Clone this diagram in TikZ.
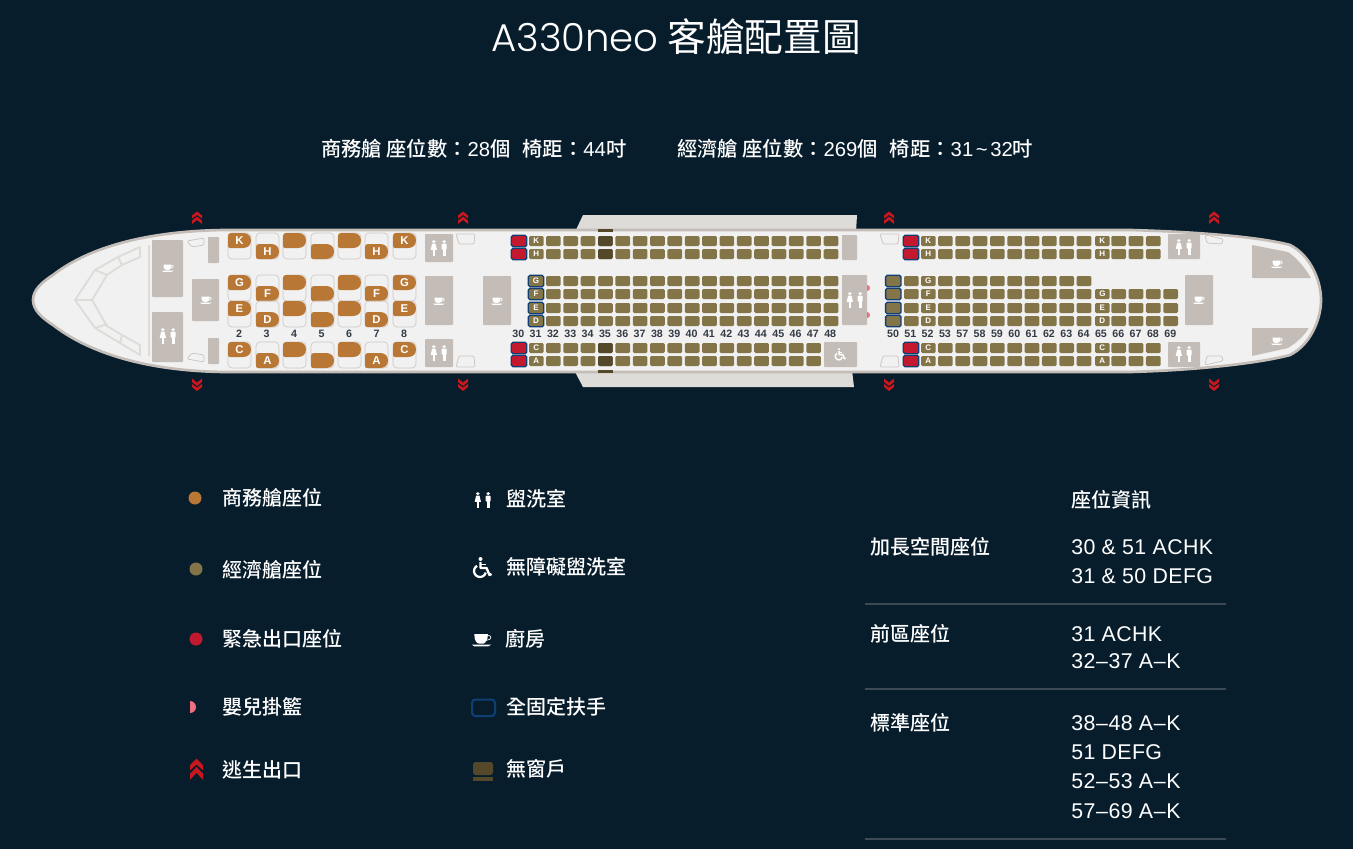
\documentclass[tikz,border=0pt]{standalone}
\usepackage{fontspec}
\setmainfont[UprightFont=* Medium]{Noto Sans CJK TC}
\newfontfamily\titlefont[UprightFont=* Light]{Poppins}
\newfontfamily\headfont{Noto Sans CJK TC}
\newfontfamily\latinfont{Liberation Sans}
\newfontfamily\infofont[LetterSpace=1.8]{Liberation Sans}
\usepackage{tikz}
\definecolor{bgcol}{HTML}{071D2C}
\definecolor{bodycol}{HTML}{F1F1F1}
\definecolor{edgecol}{HTML}{C4BDB7}
\definecolor{wingcol}{HTML}{DDDCD8}
\definecolor{bizcol}{HTML}{B97735}
\definecolor{ecocol}{HTML}{847549}
\definecolor{darkcol}{HTML}{54482B}
\definecolor{redcol}{HTML}{C3192F}
\definecolor{bluecol}{HTML}{103F76}
\definecolor{exitcol}{HTML}{C8171E}
\definecolor{pinkcol}{HTML}{EE6F7D}
\definecolor{numcol}{HTML}{333B45}
\definecolor{rulecol}{HTML}{3D4A55}
\tikzstyle{eco}=[fill=ecocol,rounded corners=1pt]
\tikzstyle{dark}=[fill=darkcol,rounded corners=1pt]
\tikzstyle{redseat}=[fill=redcol,draw=bluecol,line width=1pt,rounded corners=1.2pt]
\tikzstyle{railseat}=[fill=ecocol,draw=bluecol,line width=1pt,rounded corners=1.2pt]
\tikzstyle{room}=[fill=edgecol,rounded corners=0.6pt]
\tikzstyle{shell}=[draw=edgecol!85,line width=0.5pt,rounded corners=3pt]
\tikzstyle{door}=[draw=edgecol!85,line width=0.6pt,fill=bodycol,rounded corners=1pt]
\tikzstyle{glass}=[draw=wingcol,line width=1.4pt,line join=round]
\tikzstyle{seatlabel}=[font=\latinfont\bfseries\fontsize{6}{6}\selectfont,text=white,inner sep=0pt]
\tikzstyle{bizlabel}=[font=\latinfont\bfseries\fontsize{8.5}{8.5}\selectfont,text=white,inner sep=0pt]
\tikzstyle{rownum}=[font=\latinfont\bfseries\fontsize{8}{8}\selectfont,text=numcol,inner sep=0pt]
\tikzstyle{txt}=[font=\fontsize{15}{15}\selectfont,text=white,anchor=base west,inner sep=0pt]
\tikzstyle{subtxt}=[font=\fontsize{15.2}{15.2}\selectfont,text=white,anchor=base west,inner sep=0pt]
\tikzstyle{info}=[font=\infofont\fontsize{16}{16}\selectfont,text=white,anchor=base west,inner sep=0pt]
\tikzstyle{tablerule}=[draw=rulecol,line width=1.5pt]
\newcommand{\ecoseat}[2]{\fill[eco] (#1,#2) rectangle ++(14.7,10);}
\newcommand{\letterseat}[3]{\fill[eco] (#1,#2) rectangle ++(14.7,10);
\node[seatlabel] (seat#3#1) at (#1+7.35,#2+5) {#3};}
% business seat, #3 = 0 back of the shell up, #3 = 11 down
\newcommand{\bizseat}[5]{\draw[shell] (#1,#2) rectangle ++(23,26);
\fill[bizcol,shift={(#1,#2+#3)}] (0,3) .. controls (0,1) and (1,0) .. (3,0) -- (15,0) .. controls (20,0) and (23,3) .. (23,7.5) .. controls (23,12) and (20,15) .. (15,15) -- (2,15) .. controls (0.7,15) and (0,14) .. (0,13) -- cycle;
\ifx&#4&\else\node[bizlabel] (#5) at (#1+11.5,#2+#3+7.5) {#4};\fi}
\newcommand{\cupicon}[3]{\begin{scope}[shift={(#1,#2)},scale=#3]
\fill[white] (-4.5,-3.5) -- (3.5,-3.5) .. controls (3.5,0) and (2,2) .. (0.5,2.2) -- (-1.5,2.2) .. controls (-3.5,2) and (-4.5,0) .. cycle;
\draw[white,line width=0.5pt] (3.3,-2.7) .. controls (6,-3) and (6,0) .. (2.6,0.2);
\fill[white] (-6,2.7) -- (5.5,2.7) -- (3.5,3.8) -- (-4.5,3.8) -- cycle;
\end{scope}}
\newcommand{\peopleicon}[3]{\begin{scope}[shift={(#1,#2)},scale=#3,xscale=1.15,white]
\fill (-4.5,-6.4) circle (1.6);
\fill (-6,-4.3) -- (-3,-4.3) -- (-1.8,1.8) -- (-7.2,1.8) -- cycle;
\fill (-5.6,1.5) rectangle (-4.7,8);
\fill (-4.3,1.5) rectangle (-3.4,8);
\fill (4.5,-6.4) circle (1.6);
\fill[rounded corners=0.6pt] (2.3,-4.3) rectangle (6.7,1.5);
\fill (3.3,1) rectangle (4.35,8);
\fill (4.65,1) rectangle (5.7,8);
\end{scope}}
\newcommand{\wheelicon}[3]{\begin{scope}[shift={(#1,#2)},scale=#3,white]
\fill (-1.5,-8) circle (2);
\draw[line width=#3*1.8pt,line join=round] (-1.5,-5) -- (-1.5,1) -- (4.5,1) -- (7.5,8) -- (9.5,7);
\draw[line width=#3*1.4pt] (-1.5,-2.5) -- (3.5,-2.5);
\draw[line width=#3*1.7pt] ([shift={(-120:6)}]-2,4) arc (-120:-345:6);
\end{scope}}
\newcommand{\exiticon}[4]{\begin{scope}[shift={(#1,#2)},scale=#3,yscale=#4]
\fill[exitcol] (-5,-2.5) -- (0,-6.5) -- (5,-2.5) -- (5,0.5) -- (0,-3) -- (-5,0.5) -- cycle;
\fill[exitcol] (-5,2.5) -- (0,-1.5) -- (5,2.5) -- (5,6) -- (0,2) -- (-5,6) -- cycle;
\end{scope}}

\begin{document}
\begin{tikzpicture}[x=0.75pt,y=-0.75pt]
\useasboundingbox (0,0) rectangle (1353,849);
\fill[bgcol] (0,0) rectangle (1353,849);

% wings
\fill[wingcol] (575,232) -- (583,215) -- (857,215) -- (856,232) -- cycle;
\fill[wingcol] (574,370) -- (583,387) -- (854,387) -- (852,370) -- cycle;

% fuselage
\draw[fill=bodycol,draw=edgecol,line width=2pt] (33,300) .. controls (33,290) and (42,282) .. (53,275) .. controls (85,250) and (140,231) .. (225,230) -- (1130,230) .. controls (1200,232) and (1260,237) .. (1290,245) .. controls (1310,255) and (1321,280) .. (1321,300) .. controls (1321,320) and (1310,345) .. (1290,355) .. controls (1260,363) and (1200,370) .. (1130,372) -- (225,372) .. controls (140,371) and (85,350) .. (53,325) .. controls (42,318) and (33,310) .. cycle;

\fill[darkcol] (598,229) rectangle (613,232);
\fill[darkcol] (598,369.5) rectangle (613,372.5);

% cockpit
\draw[glass] (75,300) -- (95,270) -- (118,257) -- (140,247) -- (140,257) -- (122,265) -- (107,275) -- (92,300) -- cycle;
\draw[glass] (95,270) -- (107,275);
\draw[glass] (118,257) -- (122,265);
\draw[glass] (75,300) -- (95,328) -- (120,343) -- (140,355) -- (140,345) -- (122,335) -- (107,326) -- (92,300);
\draw[glass] (95,328) -- (107,324);
\draw[glass] (120,343) -- (122,335);
\draw[wingcol,line width=1pt] (149,245) -- (149,356);

% galleys and lavatories
\fill[room] (152,240) rectangle (183,297);
\fill[room] (152,312) rectangle (183,362);
\fill[room] (192,279) rectangle (219,321);
\fill[room] (208,237) rectangle (219,263);
\fill[room] (208,338) rectangle (219,364);
\fill[room] (425,234) rectangle (453,262);
\fill[room] (425,276) rectangle (453,325);
\fill[room] (425,339) rectangle (453,367);
\fill[room] (483,276) rectangle (511,325);
\fill[room] (842,235) rectangle (857,260);
\fill[room] (842,275) rectangle (867,325);
\fill[room] (824,342) rectangle (857,367);
\fill[room] (1168,234) rectangle (1200,259);
\fill[room] (1168,342) rectangle (1200,367);
\fill[room] (1185,275) rectangle (1213,325);
\fill[room] (1252,245) -- (1288,252) .. controls (1297,258) and (1305,268) .. (1311,278) -- (1252,278) -- cycle;
\fill[room] (1252,328) -- (1309,328) .. controls (1303,337) and (1296,343) .. (1288,348) -- (1252,356) -- cycle;

\fill[pinkcol] (867,285) arc (-90:90:3) -- cycle;
\fill[pinkcol] (867,312) arc (-90:90:3) -- cycle;

\cupicon{168}{268}{1}
\cupicon{206}{300}{1}
\cupicon{439}{301}{1}
\cupicon{497}{301}{1}
\cupicon{1199}{300}{1}
\cupicon{1277}{264}{1}
\cupicon{1277}{341}{1}
\peopleicon{168}{336}{1}
\peopleicon{439}{248}{1}
\peopleicon{439}{353}{1}
\peopleicon{855}{300}{1}
\peopleicon{1184}{247}{1}
\peopleicon{1184}{354}{1}
\wheelicon{840}{354}{0.6}

% doors
\draw[door] (187,241) -- (204,238) -- (204,245) -- (192,247) -- cycle;
\draw[door] (187,359) -- (204,362) -- (204,355) -- (192,353) -- cycle;
\foreach \xx in {456,880}{
\draw[door] (\xx,234) -- (\xx+19,234) -- (\xx+18,244) -- (\xx+3,244) -- cycle;
\draw[door] (\xx,367) -- (\xx+19,367) -- (\xx+18,356) -- (\xx+3,356) -- cycle;
}
\draw[door] (1205,235) -- (1223,239) -- (1222,244) -- (1207,243) -- cycle;
\draw[door] (1205,365) -- (1223,361) -- (1222,356) -- (1207,356) -- cycle;

% exits
\foreach \xx in {197,463,889,1214}{
\exiticon{\xx}{218}{1}{1}
\exiticon{\xx}{384.5}{1}{-1}
}

% business class
\foreach \xx/\la/\lb/\lc/\ld in {228/K/G/E/C,283///,338///,393/K/G/E/C}{
\bizseat{\xx}{233}{0}{\la}{bizK\xx}
\bizseat{\xx}{275}{0}{\lb}{bizG\xx}
\bizseat{\xx}{301}{0}{\lc}{bizE\xx}
\bizseat{\xx}{342}{0}{\ld}{bizC\xx}
}
\foreach \xx/\la/\lb/\lc/\ld in {256/H/F/D/A,311///,365/H/F/D/A}{
\bizseat{\xx}{233}{11}{\la}{bizH\xx}
\bizseat{\xx}{275}{11}{\lb}{bizF\xx}
\bizseat{\xx}{301}{11}{\lc}{bizD\xx}
\bizseat{\xx}{342}{11}{\ld}{bizA\xx}
}
\foreach \n [count=\i from 0] in {2,3,4,5,6,7,8}{
\node[rownum] (num\n) at ({239+27.5*\i},334) {\n};
}

% forward economy
\foreach \yy in {236,249,276,289,303,316,343,356}{
\foreach \i in {0,...,15}{
\ecoseat{546+17.35*\i}{\yy}
}
}
\foreach \yy in {236,249,276,289,303,316}{
\ecoseat{823.7}{\yy}
}
\foreach \yy in {236,249,343,356}{
\fill[redseat] (511.3,\yy-0.7) rectangle ++(15.4,11.4);
\fill[dark] (598,\yy) rectangle ++(14.7,10);
}
\letterseat{529}{236}{K}
\letterseat{529}{249}{H}
\letterseat{529}{343}{C}
\letterseat{529}{356}{A}
\foreach \yy/\la in {276/G,289/F,303/E,316/D}{
\draw[railseat] (528.3,\yy-0.7) rectangle ++(15.4,11.4);
\node[seatlabel] (seat\la31) at (536,\yy+5) {\la};
}
\foreach \n [count=\i from 0] in {30,31,32,33,34,35,36,37,38,39,40,41,42,43,44,45,46,47,48}{
\node[rownum] (num\n) at ({518.3+17.33*\i},334) {\n};
}

% rear economy
\foreach \yy in {236,249,343,356}{
\fill[redseat] (903.3,\yy-0.7) rectangle ++(15.4,11.4);
\foreach \i in {0,...,8,10,11,12}{
\ecoseat{938+17.33*\i}{\yy}
}
}
\foreach \yy in {276,289,303,316}{
\draw[railseat] (885.6,\yy-0.7) rectangle ++(15.4,11.4);
\ecoseat{904}{\yy}
\foreach \i in {0,...,8}{
\ecoseat{938+17.33*\i}{\yy}
}
}
\foreach \yy in {289,303,316}{
\foreach \i in {10,...,13}{
\ecoseat{938+17.33*\i}{\yy}
}
}
\letterseat{921}{236}{K}
\letterseat{921}{249}{H}
\letterseat{921}{276}{G}
\letterseat{921}{289}{F}
\letterseat{921}{303}{E}
\letterseat{921}{316}{D}
\letterseat{921}{343}{C}
\letterseat{921}{356}{A}
\letterseat{1095}{236}{K}
\letterseat{1095}{249}{H}
\letterseat{1095}{289}{G}
\letterseat{1095}{303}{E}
\letterseat{1095}{316}{D}
\letterseat{1095}{343}{C}
\letterseat{1095}{356}{A}
\foreach \n [count=\i from 0] in {50,51,52,53,57,58,59,60,61,62,63,64,65,66,67,68,69}{
\node[rownum] (num\n) at ({893+17.33*\i},334) {\n};
}

% headings
\node[text=white,anchor=base,inner sep=0pt,font=\fontsize{29}{29}\selectfont] (title) at (676,51.5) {{\titlefont A330neo} {\headfont 客艙配置圖}};
\node[subtxt] (bizinfo) at (321,156.5) {商務艙 座位數：{\latinfont 28}個\hspace{0.6em}椅距：{\latinfont 44}吋};
\node[subtxt] (ecoinfo) at (677,156.5) {經濟艙 座位數：{\latinfont 269}個\hspace{0.6em}椅距：{\latinfont 31\kern2pt\textasciitilde\kern2pt32}吋};

% legend
\fill[bizcol] (195,498) circle (6.5);
\fill[ecocol] (196,569) circle (6.5);
\fill[redcol] (196,639) circle (6.5);
\fill[pinkcol] (190,701) arc (-90:90:6) -- cycle;
\exiticon{196.5}{769.5}{1.3}{1.3}

\node[txt] (legbiz) at (222,505) {商務艙座位};
\node[txt] (legeco) at (222,577) {經濟艙座位};
\node[txt] (legred) at (222,646) {緊急出口座位};
\node[txt] (legpink) at (222,714) {嬰兒掛籃};
\node[txt] (legexit) at (222,777) {逃生出口};

\peopleicon{483}{500}{1}
\wheelicon{482}{567}{1}
\cupicon{482}{640}{1.7}
\draw[bluecol,line width=1.5pt,rounded corners=2.5pt] (472,699.5) rectangle (495,716);
\fill[darkcol,rounded corners=2pt] (473,762) rectangle (493,775);
\fill[darkcol] (473,777) rectangle (493,781);

\node[txt] (leglav) at (506,506) {盥洗室};
\node[txt] (legwheel) at (506,574) {無障礙盥洗室};
\node[txt] (leggal) at (505,646) {廚房};
\node[txt] (legbar) at (506,714) {全固定扶手};
\node[txt] (legwin) at (506,776) {無窗戶};

% seat table
\node[txt] (tabhead) at (1071,507) {座位資訊};
\node[txt] (tabextra) at (870,554) {加長空間座位};
\node[txt] (tabfront) at (870,641) {前區座位};
\node[txt] (tabstd) at (870,730) {標準座位};

\node[info] (infoa) at (1071,554) {30 \& 51 ACHK};
\node[info] (infob) at (1071,583) {31 \& 50 DEFG};
\node[info] (infoc) at (1071,641) {31 ACHK};
\node[info] (infod) at (1071,668) {32\kern0.5pt–\kern0.5pt37 A\kern0.5pt–\kern0.5pt K};
\node[info] (infoe) at (1071,730) {38\kern0.5pt–\kern0.5pt48 A\kern0.5pt–\kern0.5pt K};
\node[info] (infof) at (1071,759) {51 DEFG};
\node[info] (infog) at (1071,788) {52\kern0.5pt–\kern0.5pt53 A\kern0.5pt–\kern0.5pt K};
\node[info] (infoh) at (1071,818) {57\kern0.5pt–\kern0.5pt69 A\kern0.5pt–\kern0.5pt K};

\draw[tablerule] (865,604) -- (1226,604);
\draw[tablerule] (865,689) -- (1226,689);
\draw[tablerule] (865,839) -- (1226,839);

\end{tikzpicture}
\end{document}
